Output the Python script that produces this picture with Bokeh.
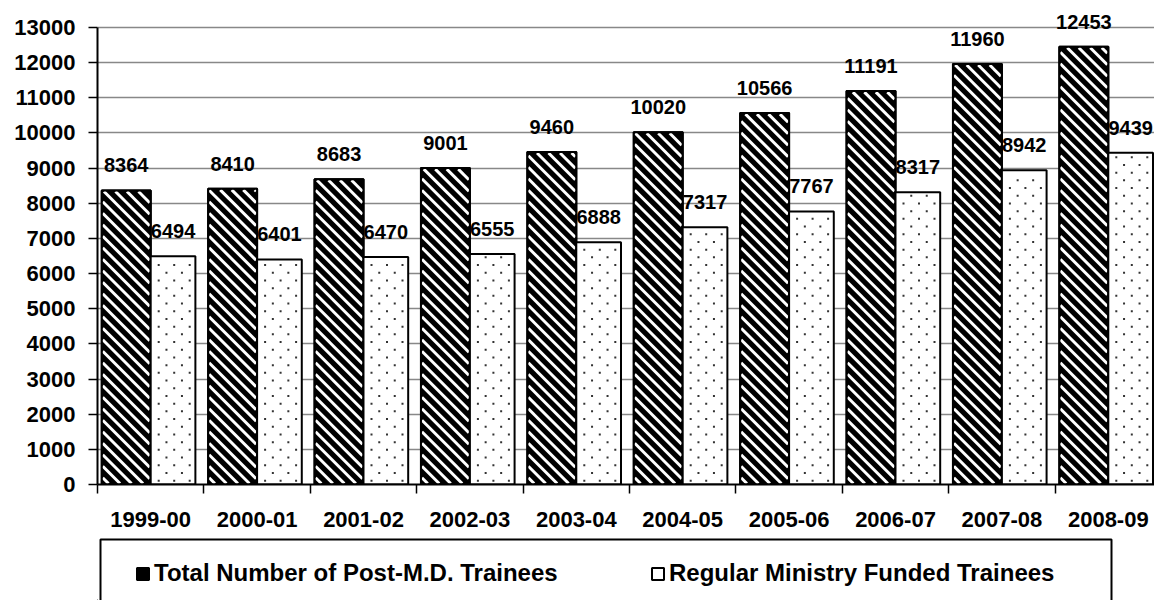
import numpy as np
from bokeh.plotting import figure
from bokeh.layouts import column
from bokeh.models import (Range1d, FixedTicker, ColumnDataSource, LabelSet,
                          Legend, LegendItem)
from bokeh.core.properties import value
from bokeh.embed import file_html
from bokeh.resources import INLINE

years = ["1999-00", "2000-01", "2001-02", "2002-03", "2003-04",
         "2004-05", "2005-06", "2006-07", "2007-08", "2008-09"]
total = [8364, 8410, 8683, 9001, 9460, 10020, 10566, 11191, 11960, 12453]
regular = [6494, 6401, 6470, 6555, 6888, 7317, 7767, 8317, 8942, 9439]
y_ticks = list(range(0, 14000, 1000))
series_names = ["Total Number of Post-M.D. Trainees", "Regular Ministry Funded Trainees"]

FONT = "Liberation Sans"
n = len(years)
idx = np.arange(n)

# layout geometry (pixels)
W, H = 1154, 530
BL, BT, BB, BR = 97, 4, 46, 0
AX_TOP = 27                       # pixel row of the top tick (13000)
PX_X = 106.4                      # pixels per category
Y_TOP = 13000
PX_Y = (H - BB - AX_TOP) / Y_TOP  # pixels per unit value
y_end = (H - BB - BT) / PX_Y
x_end = (W - BL - BR) / PX_X

W1, W2 = 0.46, 0.42               # bar widths (category units)
x1 = idx + 0.04 + W1 / 2
x2 = idx + 0.50 + W2 / 2

src1 = ColumnDataSource(dict(x=x1, y=total, t=[str(v) for v in total]))
src2 = ColumnDataSource(dict(x=x2, y=regular, t=[str(v) for v in regular]))

p = figure(width=W, height=H, x_range=Range1d(0, x_end), y_range=Range1d(0, y_end),
           output_backend="svg", toolbar_location=None,
           min_border_left=BL, min_border_right=BR, min_border_top=BT, min_border_bottom=BB)
p.outline_line_color = None
p.background_fill_color = "white"
p.border_fill_color = "white"

# --- black bars with white diagonal stripes ---
p.vbar(x="x", top="y", width=W1, source=src1, fill_color="black",
       line_color="black", line_width=2)

P = 11.5  # stripe period in px
sx0, sy0, sx1, sy1 = [], [], [], []
for xc, top in zip(x1, total):
    w = W1 * PX_X - 2
    h = top * PX_Y - 2
    left = xc - W1 / 2 + 1 / PX_X
    for c in np.arange(P / 2, w + h, P):
        lo, hi = max(0.0, c - h), min(w, c)
        if hi - lo < 0.5:
            continue
        sx0.append(left + lo / PX_X); sy0.append((1 + c - lo) / PX_Y)
        sx1.append(left + hi / PX_X); sy1.append((1 + c - hi) / PX_Y)
p.segment(x0=sx0, y0=sy0, x1=sx1, y1=sy1, line_color="white", line_width=3)
p.vbar(x="x", top="y", width=W1, source=src1, fill_color=None,
       line_color="black", line_width=2)

# --- white bars with dot pattern ---
p.vbar(x="x", top="y", width=W2, source=src2, fill_color="white",
       line_color="black", line_width=2)
dx, dy = [], []
for xc, top in zip(x2, regular):
    w = W2 * PX_X
    h = top * PX_Y
    left = xc - W2 / 2
    j = 0
    yy = 3.85
    while yy < h - 3:
        xx = 8.0 if j % 2 == 0 else 15.75
        while xx < w - 3:
            dx.append(left + xx / PX_X); dy.append(yy / PX_Y)
            xx += 15.5
        yy += 7.7
        j += 1
p.scatter(x=dx, y=dy, marker="square", size=2, fill_color="#333333", line_color=None)

# --- axes ---
p.xgrid.visible = False
p.yaxis.ticker = FixedTicker(ticks=y_ticks)
p.yaxis.bounds = (0, Y_TOP)
p.ygrid.ticker = FixedTicker(ticks=y_ticks)
p.ygrid.grid_line_color = "#888888"
p.ygrid.grid_line_width = 1.3

p.xaxis.ticker = FixedTicker(ticks=list(idx + 0.5), minor_ticks=list(range(n + 1)))
p.xaxis.major_label_overrides = {float(i + 0.5): y for i, y in zip(idx, years)}
p.xaxis.major_tick_out = 0
p.xaxis.major_tick_in = 0
p.xaxis.minor_tick_out = 9
p.xaxis.minor_tick_in = 0
p.xaxis.minor_tick_line_color = "black"
p.xaxis.minor_tick_line_width = 1.5
p.xaxis.major_label_standoff = 18

p.yaxis.major_tick_out = 9
p.yaxis.major_tick_in = 0
p.yaxis.minor_tick_line_color = None
p.yaxis.major_tick_line_width = 1.5
p.yaxis.major_label_standoff = 13

for ax in (p.xaxis, p.yaxis):
    ax.axis_line_color = "black"
    ax.axis_line_width = 2
    ax.major_tick_line_color = "black"
    ax.major_label_text_font = FONT
    ax.major_label_text_font_style = "bold"
    ax.major_label_text_font_size = "22px"
    ax.major_label_text_color = "black"

# --- value labels ---
for src in (src1, src2):
    p.add_layout(LabelSet(x="x", y="y", text="t", source=src, y_offset=18,
                          text_align="center", text_baseline="alphabetic",
                          text_font=value(FONT), text_font_style="bold",
                          text_font_size="20px", text_color="black"))

# --- legend strip (separate figure directly below; frames are aligned) ---
LH = 70
FW = W - BL - BR                  # frame width shared with the main plot
q = figure(width=W, height=LH, x_range=Range1d(0, FW), y_range=Range1d(0, LH),
           output_backend="svg", toolbar_location=None, x_axis_type=None, y_axis_type=None,
           min_border_left=0, min_border_right=0, min_border_top=0, min_border_bottom=0)
q.outline_line_color = None
q.grid.visible = False
q.background_fill_color = "white"
q.border_fill_color = "white"
# legend frame (screen-pixel coordinates of the strip)
q.quad(left=[3], right=[1014], top=[LH - 9], bottom=[-20],
       fill_color="white", line_color="black", line_width=2)
g1 = q.vbar(x=[-50], top=[-50], width=1, fill_color="black", line_color="black", line_width=2)
g2 = q.vbar(x=[-50], top=[-50], width=1, fill_color="white", line_color="black", line_width=2)

legend = Legend(items=[LegendItem(label=series_names[0], renderers=[g1]),
                       LegendItem(label=series_names[1], renderers=[g2])],
                orientation="horizontal", location=(38, 12), padding=0, spacing=66,
                glyph_width=15, glyph_height=15, label_standoff=4, label_width=430,
                label_height=30, label_text_font=FONT, label_text_font_style="bold",
                label_text_font_size="24px", label_text_color="black",
                border_line_alpha=0, background_fill_alpha=0, margin=0)
q.add_layout(legend, "center")

layout = column(p, q, spacing=0)
open("out.html", "w").write(file_html(layout, INLINE))
